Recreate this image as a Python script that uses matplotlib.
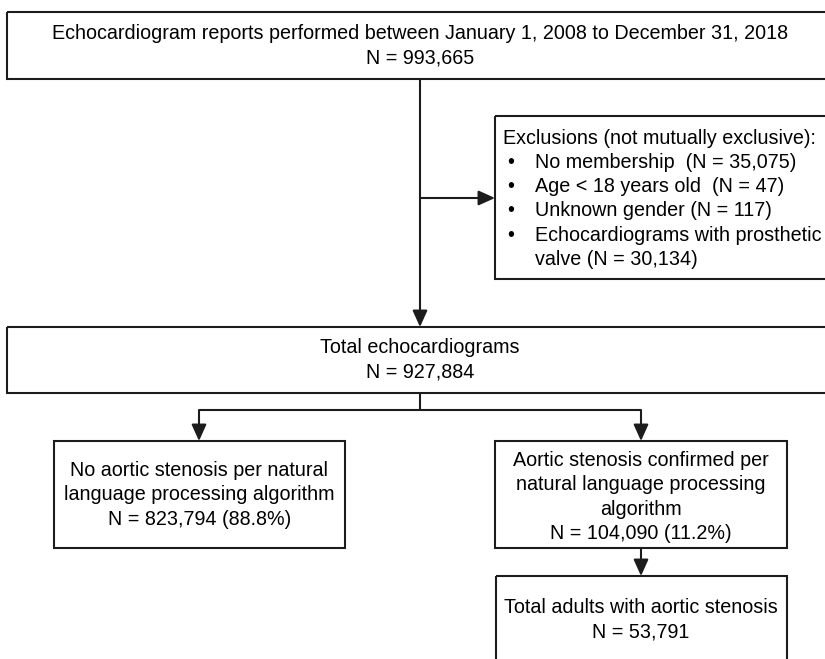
"""Flow diagram of echocardiogram selection for the aortic stenosis cohort."""

import matplotlib

matplotlib.use("Agg")
import matplotlib.pyplot as plt
from matplotlib.patches import Rectangle

plt.rcParams["font.family"] = ["Liberation Sans", "DejaVu Sans"]

# ---- content ---------------------------------------------------------------
TOP_TEXT = [
    "Echocardiogram reports performed between January 1, 2008 to December 31, 2018",
    "N = 993,665",
]
EXCL_HEADER = "Exclusions (not mutually exclusive):"
EXCL_ITEMS = [
    ["No membership  (N = 35,075)"],
    ["Age < 18 years old  (N = 47)"],
    ["Unknown gender (N = 117)"],
    ["Echocardiograms with prosthetic", "valve (N = 30,134)"],
]
TOTAL_TEXT = ["Total echocardiograms", "N = 927,884"]
NO_AS_TEXT = [
    "No aortic stenosis per natural",
    "language processing algorithm",
    "N = 823,794 (88.8%)",
]
AS_TEXT = [
    "Aortic stenosis confirmed per",
    "natural language processing",
    "algorithm",
    "N = 104,090 (11.2%)",
]
ADULT_TEXT = ["Total adults with aortic stenosis", "N = 53,791"]

# ---- layout (pixels, y downwards) ------------------------------------------
W, H = 825, 659
LINE = "#1c1c1c"
LW = 1.5
FS = 14.2
STEP = 24.3  # line pitch in px

boxes = {
    "top": (7, 12, 826, 67),
    "excl": (495, 116, 340, 163),
    "total": (7, 327, 826, 66),
    "no_as": (54, 441, 291, 107),
    "as": (495, 441, 292, 107),
    "adult": (496, 576, 291, 110),
}

fig = plt.figure(figsize=(W / 100, H / 100), dpi=100)
ax = fig.add_axes([0, 0, 1, 1])
ax.set_xlim(0, W)
ax.set_ylim(H, 0)
ax.axis("off")

for x, y, w, h in boxes.values():
    ax.add_patch(Rectangle((x, y), w, h, fill=False, ec=LINE, lw=LW, zorder=2))


def centred(lines, cx, cy):
    n = len(lines)
    for i, s in enumerate(lines):
        ax.text(cx, cy + (i - (n - 1) / 2) * STEP, s, ha="center", va="center",
                fontsize=FS, color="black")


def line(xs, ys):
    ax.plot(xs, ys, color=LINE, lw=LW, solid_capstyle="butt", zorder=1)


def arrow(x0, y0, x1, y1):
    ax.annotate("", xy=(x1, y1), xytext=(x0, y0),
                arrowprops=dict(arrowstyle="-|>,head_length=1.0,head_width=0.45",
                                color=LINE, lw=LW, shrinkA=0, shrinkB=0,
                                mutation_scale=10))


centred(TOP_TEXT, 420, 46)
centred(TOTAL_TEXT, 420, 360)
centred(NO_AS_TEXT, 199.5, 495)
centred(AS_TEXT, 641, 497)
centred(ADULT_TEXT, 641, 620)

# exclusions list
ax.text(503, 138, EXCL_HEADER, ha="left", va="center", fontsize=FS)
row = 1
for item in EXCL_ITEMS:
    ax.text(507, 138 + row * STEP, "\u2022", ha="left", va="center", fontsize=FS)
    for part in item:
        ax.text(535, 138 + row * STEP, part, ha="left", va="center", fontsize=FS)
        row += 1

# connectors
arrow(420, 79, 420, 327)
arrow(420, 198, 495, 198)
line([420, 420], [393, 410])
line([199, 641], [410, 410])
arrow(199, 410, 199, 441)
arrow(641, 410, 641, 441)
arrow(641, 548, 641, 576)

fig.savefig("out.png", dpi=100)
